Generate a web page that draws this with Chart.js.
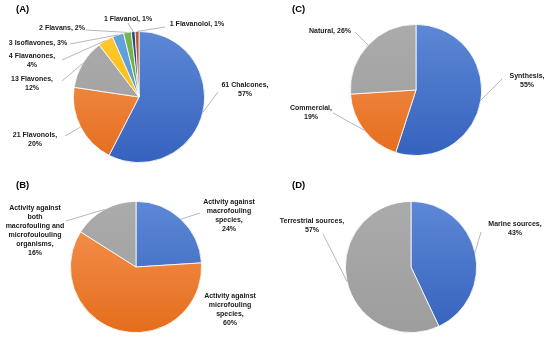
<!DOCTYPE html>
<html>
<head>
<meta charset="utf-8">
<script src="https://cdn.jsdelivr.net/npm/chart.js@4.4.1/dist/chart.umd.min.js"></script>
<style>
  html, body { margin: 0; padding: 0; background: #fff; }
  #wrap { position: relative; width: 550px; height: 338px; overflow: hidden; }
  canvas { position: absolute; }
</style>
</head>
<body>
<div id="wrap">
  <canvas id="chartA" width="275" height="169" style="left:0;top:0"></canvas>
  <canvas id="chartC" width="275" height="169" style="left:275px;top:0"></canvas>
  <canvas id="chartB" width="275" height="169" style="left:0;top:169px"></canvas>
  <canvas id="chartD" width="275" height="169" style="left:275px;top:169px"></canvas>
</div>
<script>
// ===== data =====
const catA = ["61 Chalcones", "21 Flavonols", "13 Flavones", "4 Flavanones", "3 Isoflavones", "2 Flavans", "1 Flavanol", "1 Flavanolol"];
const valA = [61, 21, 13, 4, 3, 2, 1, 1];
const pctA = ["57%", "20%", "12%", "4%", "3%", "2%", "1%", "1%"];

const catB = ["Activity against macrofouling species", "Activity against microfouling species", "Activity against both macrofouling and microfoulouling organisms"];
const valB = [24, 60, 16];
const pctB = ["24%", "60%", "16%"];

const catC = ["Synthesis", "Commercial", "Natural"];
const valC = [55, 19, 26];
const pctC = ["55%", "19%", "26%"];

const catD = ["Marine sources", "Terrestrial sources"];
const valD = [43, 57];
const pctD = ["43%", "57%"];

// office-like palette, [top, bottom] of a soft vertical gradient
const PAL = {
  blue:   ["#5d88d6", "#3562bd"],
  orange: ["#f59656", "#e56d1c"],
  gray:   ["#ababab", "#9d9d9d"],
  gold:   ["#ffc82c", "#f7b500"],
  sky:    ["#64a3dc", "#4f90cf"],
  green:  ["#78b44f", "#66a23d"],
  navy:   ["#2c4c84", "#223f70"],
  brown:  ["#c0592a", "#a44616"],
};

const FONT = "bold 7px 'Liberation Sans', Arial, sans-serif";
const LINE_H = 9;

// one gradient per slice colour, built once the chart area is known
function sliceFill(colors) {
  return (ctx) => {
    const pair = colors[ctx.dataIndex] || colors[0];
    const ch = ctx.chart;
    const a = ch.chartArea;
    if (!a) return pair[1];
    const g = ch.ctx.createLinearGradient(0, a.top, 0, a.bottom);
    g.addColorStop(0, pair[0]);
    g.addColorStop(1, pair[1]);
    return g;
  };
}

// labels + leader lines drawn from the arc elements
const pieLabels = {
  id: "pieLabels",
  afterDatasetsDraw(chart, args, opts) {
    const ctx = chart.ctx;
    const meta = chart.getDatasetMeta(0);
    ctx.save();
    // panel tag
    ctx.fillStyle = "#000";
    ctx.font = "bold 9.5px 'Liberation Sans', Arial, sans-serif";
    ctx.textAlign = "left";
    ctx.textBaseline = "middle";
    ctx.fillText(opts.tag, opts.tagPos[0], opts.tagPos[1]);

    ctx.font = FONT;
    ctx.textAlign = "center";
    opts.items.forEach((it, i) => {
      if (!it) return;
      const arc = meta.data[i];
      const mid = (arc.startAngle + arc.endAngle) / 2;
      if (it.anchor) {
        const ex = arc.x + Math.cos(mid) * arc.outerRadius;
        const ey = arc.y + Math.sin(mid) * arc.outerRadius;
        ctx.strokeStyle = "#a6a6a6";
        ctx.lineWidth = 0.8;
        ctx.beginPath();
        ctx.moveTo(ex, ey);
        ctx.lineTo(it.anchor[0], it.anchor[1]);
        ctx.stroke();
      }
      const lines = it.lines;
      const y0 = it.y - (lines.length - 1) * LINE_H / 2;
      ctx.fillStyle = "#1a1a1a";
      lines.forEach((t, k) => ctx.fillText(t, it.x, y0 + k * LINE_H));
    });
    ctx.restore();
  }
};

function makePie(id, cats, vals, colors, pad, tag, tagPos, items) {
  return new Chart(document.getElementById(id), {
    type: "pie",
    data: {
      labels: cats,
      datasets: [{
        data: vals,
        backgroundColor: sliceFill(colors),
        borderColor: "#ffffff",
        borderWidth: 0.8,
      }]
    },
    options: {
      responsive: false,
      animation: false,
      layout: { padding: pad },
      plugins: {
        legend: { display: false },
        tooltip: { enabled: false },
        pieLabels: { tag, tagPos, items },
      }
    },
    plugins: [pieLabels]
  });
}

// (A)
makePie("chartA", catA, valA,
  [PAL.blue, PAL.orange, PAL.gray, PAL.gold, PAL.sky, PAL.green, PAL.navy, PAL.brown],
  { left: 73, top: 31, right: 70, bottom: 6 }, "(A)", [16, 9], [
    { lines: [catA[0] + ",", pctA[0]], x: 245, y: 90, anchor: [218, 92] },
    { lines: [catA[1] + ",", pctA[1]], x: 35, y: 140, anchor: [65, 136] },
    { lines: [catA[2] + ",", pctA[2]], x: 32, y: 84, anchor: [62, 81] },
    { lines: [catA[3] + ",", pctA[3]], x: 32, y: 61, anchor: [62, 60] },
    { lines: [catA[4] + ", " + pctA[4]], x: 38, y: 43, anchor: [70, 44] },
    { lines: [catA[5] + ", " + pctA[5]], x: 62, y: 28, anchor: [86, 30] },
    { lines: [catA[6] + ", " + pctA[6]], x: 128, y: 19, anchor: [128, 23] },
    { lines: [catA[7] + ", " + pctA[7]], x: 197, y: 24, anchor: [165, 27] },
  ]);

// (C)
makePie("chartC", catC, valC,
  [PAL.blue, PAL.orange, PAL.gray],
  { left: 75, top: 24, right: 68, bottom: 13 }, "(C)", [17, 9], [
    { lines: [catC[0] + ",", pctC[0]], x: 252, y: 81, anchor: [227, 79] },
    { lines: [catC[1] + ",", pctC[1]], x: 36, y: 113, anchor: [58, 113] },
    { lines: [catC[2] + ", " + pctC[2]], x: 55, y: 31, anchor: [80, 32] },
  ]);

// (B)
makePie("chartB", catB, valB,
  [PAL.blue, PAL.orange, PAL.gray],
  { left: 70, top: 32, right: 73, bottom: 5 }, "(B)", [16, 16], [
    { lines: ["Activity against", "macrofouling", "species,", pctB[0]], x: 229, y: 47, anchor: [200, 44] },
    { lines: ["Activity against", "microfouling", "species,", pctB[1]], x: 230, y: 141 },
    { lines: ["Activity against", "both", "macrofouling and", "microfoulouling", "organisms,", pctB[2]], x: 35, y: 62, anchor: [66, 52] },
  ]);

// (D)
makePie("chartD", catD, valD,
  [PAL.blue, PAL.gray],
  { left: 70, top: 32, right: 73, bottom: 5 }, "(D)", [17, 16], [
    { lines: [catD[0] + ",", pctD[0]], x: 240, y: 60, anchor: [206, 63] },
    { lines: [catD[1] + ",", pctD[1]], x: 37, y: 57, anchor: [48, 65] },
  ]);
</script>
</body>
</html>
